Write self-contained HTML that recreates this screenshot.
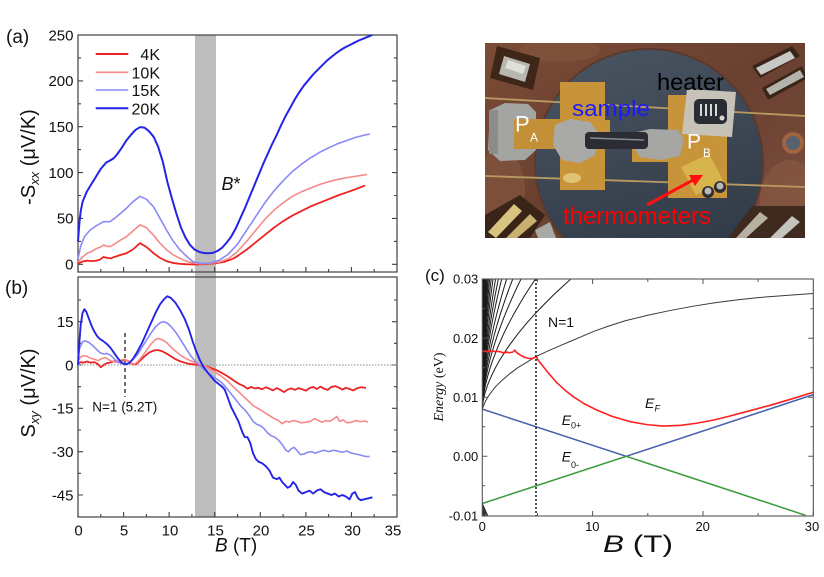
<!DOCTYPE html>
<html><head><meta charset="utf-8"><style>
html,body{margin:0;padding:0;background:#fff;}
svg{display:block;}
text{font-family:"Liberation Sans",sans-serif;}
</style></head><body>
<svg width="824" height="577" viewBox="0 0 824 577" xmlns="http://www.w3.org/2000/svg">
<defs>
<clipPath id="cc"><rect x="482.3" y="279" width="331" height="237"/></clipPath>
<clipPath id="pc"><rect x="485" y="43" width="320" height="195"/></clipPath>
<linearGradient id="slate" x1="0" y1="0" x2="0.3" y2="1"><stop offset="0" stop-color="#4a5563"/><stop offset="1" stop-color="#323b48"/></linearGradient>
<linearGradient id="cop" x1="0" y1="0" x2="1" y2="1"><stop offset="0" stop-color="#7a4c36"/><stop offset="0.5" stop-color="#6a4030"/><stop offset="1" stop-color="#7c5040"/></linearGradient>
<path id="fan" d="M0,0 L0.01,0.063 L0.03,0.122 L0.06,0.185 L0.1,0.251 L0.15,0.32 L0.2,0.381 L0.3,0.486 L0.4,0.577 L0.5,0.66 L0.6,0.736 L0.7,0.807 L0.8,0.875 L0.9,0.939 L1,1 L1.1,1.059 L1.2,1.116" fill="none" stroke="#1a1a1a" stroke-width="1" vector-effect="non-scaling-stroke"/>
</defs>

<rect x="195" y="35" width="21" height="482" fill="#bdbdbd"/>

<!-- Panel (a) -->
<rect x="78" y="35" width="319" height="237" fill="none" stroke="#404040" stroke-width="1.2"/>
<path d="M78,272v-5M123.6,272v-5M169.1,272v-5M214.7,272v-5M260.3,272v-5M305.9,272v-5M351.4,272v-5M100.8,272v-3M146.4,272v-3M191.9,272v-3M237.5,272v-3M283.1,272v-3M328.6,272v-3M374.2,272v-3M78,264.3h5M78,218.4h5M78,172.6h5M78,126.7h5M78,80.9h5M78,241.4h3M78,195.5h3M78,149.6h3M78,103.8h3M78,57.9h3M397,264.3h-5M397,218.4h-5M397,172.6h-5M397,126.7h-5M397,80.9h-5M397,241.4h-3M397,195.5h-3M397,149.6h-3M397,103.8h-3M397,57.9h-3" stroke="#404040" stroke-width="1.1" fill="none"/>
<g font-size="15" text-anchor="end" fill="#111">
<text x="73.5" y="269.6">0</text><text x="73.5" y="223.7">50</text><text x="73.5" y="177.9">100</text><text x="73.5" y="132">150</text><text x="73.5" y="86.2">200</text><text x="73.5" y="40.3">250</text>
</g>
<text x="6" y="43" font-size="19" fill="#111">(a)</text>
<text transform="translate(35,157) rotate(-90)" text-anchor="middle" font-size="20" fill="#111">-S<tspan font-size="13" font-style="italic" dy="4">xx</tspan><tspan dy="-4"> (μV/K)</tspan></text>
<text x="221.5" y="190" font-size="18" fill="#111"><tspan font-style="italic">B</tspan>*</text>
<line x1="95.7" y1="54" x2="128.3" y2="54" stroke="#ee2222" stroke-width="2"/>
<line x1="95.7" y1="72.3" x2="128.3" y2="72.3" stroke="#f58a8a" stroke-width="1.6"/>
<line x1="95.7" y1="90" x2="128.3" y2="90" stroke="#8a8af5" stroke-width="1.6"/>
<line x1="95.7" y1="108.3" x2="128.3" y2="108.3" stroke="#2424e6" stroke-width="2"/>
<g font-size="16" text-anchor="end" fill="#111">
<text x="160" y="60">4K</text><text x="160" y="78.3">10K</text><text x="160" y="96">15K</text><text x="160" y="114.3">20K</text>
</g>
<g transform="translate(78,264.3) scale(9.114,-0.9172)" fill="none" stroke-linejoin="round">
<path vector-effect="non-scaling-stroke" stroke="#ee2222" stroke-width="1.8" d="M0,1 L0.5,3 L1,4 L1.5,3.5 L2,4 L2.4,5 L2.8,8 L3.2,7 L3.6,6.5 L4,8 L4.6,10 L5.3,12 L6,16 L6.8,23 L7.5,19 L8.3,12 L9,7 L9.7,3.5 L10.4,1.5 L11.2,0.5 L12,0 L13,-0.2 L14,0.2 L15,1 L16,2.5 L17,6 L17.5,9 L18.5,16 L19.5,24 L20.5,32 L21.5,40 L22.5,47 L23.5,53 L24.5,58 L25.5,63 L26.5,67 L27.5,71 L28.5,75 L29.5,78.5 L30.5,82 L31.5,86"/>
<path vector-effect="non-scaling-stroke" stroke="#f58a8a" stroke-width="1.6" d="M0,2.5 L0.5,8 L1,12 L1.5,14 L2,17 L2.5,19 L2.8,21 L3.2,19.5 L3.6,19.5 L4,22 L4.6,26 L5.3,30 L6,36 L6.8,43 L7.5,40 L8.3,31.5 L9,23 L9.7,16 L10.4,10.5 L11.2,6.5 L12,3 L12.8,1.2 L13.5,0.5 L14.5,1 L15.5,2.5 L16.5,6 L17.5,14 L18.5,25 L19.5,37 L20.5,49 L21.5,59 L22.5,67 L23.5,74 L24.5,79 L25.5,83 L26.5,87 L27.5,90 L28.5,92.5 L29.5,94.5 L30.5,96 L31.7,98"/>
<path vector-effect="non-scaling-stroke" stroke="#8a8af5" stroke-width="1.6" d="M0,6 L0.3,20 L0.7,30 L1.3,37 L2,42 L2.8,46.5 L3.5,46.5 L4,50 L4.6,55 L5.3,61 L6,68 L6.8,74 L7.5,71 L8.3,62.5 L9,50 L9.7,37.5 L10.4,26 L11.2,15.5 L12,8 L12.6,3 L13.3,1.3 L14,1 L14.5,1.5 L15.5,4.5 L16.5,11 L17.5,22 L18.5,37 L19.5,52 L20.5,67 L21.5,80 L22.5,91 L23.5,101 L24.5,109 L25.5,116 L26.5,122 L27.5,127 L28.5,131.5 L29.5,135 L30.5,138.5 L31.5,141 L32,142"/>
<path vector-effect="non-scaling-stroke" stroke="#2424e6" stroke-width="2" d="M0,25 L0.15,45 L0.3,58 L0.5,68 L0.95,79 L1.5,88 L2,96 L2.5,104 L3.1,111 L3.5,113 L3.9,115.5 L4.3,120 L4.8,127 L5.3,135 L5.8,141 L6.3,146.5 L6.8,149.5 L7.3,149 L7.8,145 L8.3,139 L8.8,128 L9.3,112 L9.8,90 L10.3,72 L10.8,55 L11.3,40 L11.8,29 L12.3,21 L12.8,16 L13.3,13.5 L13.8,12.3 L14.3,12 L14.8,12.5 L15.3,14.5 L15.8,18 L16.3,23.5 L16.8,30 L17.3,39 L17.8,50 L18.3,61 L18.8,73 L19.3,85 L19.8,97 L20.3,109 L20.8,120 L21.3,131 L21.8,141 L22.3,152 L22.8,162 L23.3,171 L23.8,180 L24.3,188 L24.8,195 L25.3,201 L25.8,207 L26.3,212 L26.8,217 L27.3,222 L27.8,226 L28.3,230 L28.8,233.5 L29.3,236.5 L29.8,239 L30.3,241.5 L30.8,244 L31.3,246 L31.8,248 L32.3,250"/>
</g>

<!-- Panel (b) -->
<rect x="78" y="277" width="319" height="240" fill="none" stroke="#404040" stroke-width="1.2"/>
<path d="M78,517v-5M123.6,517v-5M169.1,517v-5M214.7,517v-5M260.3,517v-5M305.9,517v-5M351.4,517v-5M100.8,517v-3M146.4,517v-3M191.9,517v-3M237.5,517v-3M283.1,517v-3M328.6,517v-3M374.2,517v-3M78,321.7h5M78,365h5M78,408.3h5M78,451.7h5M78,495h5M78,300h3M78,343.3h3M78,386.7h3M78,430h3M78,473.3h3M397,321.7h-5M397,365h-5M397,408.3h-5M397,451.7h-5M397,495h-5M397,300h-3M397,343.3h-3M397,386.7h-3M397,430h-3M397,473.3h-3" stroke="#404040" stroke-width="1.1" fill="none"/>
<line x1="78" y1="365" x2="397" y2="365" stroke="#8a8a8a" stroke-width="1" stroke-dasharray="1.5,1.5"/>
<g font-size="15" text-anchor="end" fill="#111">
<text x="73.5" y="327">15</text><text x="73.5" y="370.3">0</text><text x="73.5" y="413.6">-15</text><text x="73.5" y="457">-30</text><text x="73.5" y="500.3">-45</text>
</g>
<g font-size="15" text-anchor="middle" fill="#111">
<text x="78.5" y="535.5">0</text><text x="124" y="535.5">5</text><text x="170" y="535.5">10</text><text x="215.5" y="535.5">15</text><text x="261" y="535.5">20</text><text x="306.5" y="535.5">25</text><text x="352.5" y="535.5">30</text><text x="393" y="535.5">35</text>
</g>
<text x="215" y="551.7" font-size="19" fill="#111"><tspan font-style="italic">B</tspan> (T)</text>
<text x="5" y="294" font-size="19" fill="#111">(b)</text>
<text transform="translate(35,393) rotate(-90)" text-anchor="middle" font-size="20" fill="#111">S<tspan font-size="13" font-style="italic" dy="4">xy</tspan><tspan dy="-4"> (μV/K)</tspan></text>
<line x1="125" y1="333" x2="125" y2="397" stroke="#111" stroke-width="1.2" stroke-dasharray="4,3"/>
<text x="92.3" y="411.7" font-size="13.5" fill="#111">N=1 (5.2T)</text>
<g transform="translate(78,365) scale(9.114,-2.889)" fill="none" stroke-linejoin="round">
<path vector-effect="non-scaling-stroke" stroke="#ee2222" stroke-width="1.8" d="M0,0.5 L0.3,1 L0.6,0.8 L1,1.2 L1.4,0.8 L1.8,1 L2.2,0.3 L2.5,-0.8 L2.8,0 L3.2,0.7 L3.6,0.9 L4,1.3 L4.4,1 L4.8,1.5 L5.2,1.8 L5.6,1.2 L6,0.2 L6.4,0.3 L6.8,1.5 L7.3,3 L7.8,4.3 L8.3,5 L8.7,5.2 L9.2,4.8 L9.7,4 L10.2,3 L10.7,2 L11.2,1.3 L11.7,0.8 L12.2,0.4 L12.7,0.2 L13.2,0 L13.7,-0.2 L14.2,-0.6 L14.7,-1.2 L15.2,-1.8 L15.7,-2.6 L16.2,-3.5 L16.7,-4.5 L17.2,-5.6 L17.7,-6.6 L18.2,-7.3 L18.6,-8.2 L19,-7.6 L19.4,-8.1 L19.8,-7.9 L20.2,-8.4 L20.6,-7.7 L21,-8.2 L21.4,-8.8 L21.8,-8 L22.2,-8.6 L22.6,-9.4 L23,-8.5 L23.4,-8.1 L23.8,-8.6 L24.2,-8 L24.6,-8.4 L25,-8.9 L25.4,-8 L25.8,-7.6 L26.2,-8.3 L26.6,-7.5 L27,-8.2 L27.4,-8.6 L27.8,-7.6 L28.2,-7.3 L28.6,-7.8 L29,-8.5 L29.4,-7.9 L29.8,-8.3 L30.2,-8.8 L30.6,-8.1 L31,-7.7 L31.6,-7.9"/>
<path vector-effect="non-scaling-stroke" stroke="#f58a8a" stroke-width="1.6" d="M0,1.5 L0.3,2.8 L0.6,3.2 L1,3 L1.4,2.3 L1.8,2 L2.2,1.5 L2.6,2.2 L3,2.6 L3.4,1.8 L3.8,1.2 L4.2,1 L4.6,1.5 L5,2 L5.4,1.5 L5.8,0.6 L6.2,0.3 L6.6,1.3 L7,2.8 L7.5,5 L8,7.2 L8.5,8.8 L8.8,9.2 L9.2,8.8 L9.7,7.8 L10.2,6.2 L10.7,4.8 L11.2,3.5 L11.7,2.5 L12.2,1.7 L12.7,1 L13.2,0.4 L13.7,0 L14.2,-0.8 L14.7,-1.8 L15.2,-2.8 L15.7,-3.8 L16.2,-5 L16.7,-6.5 L17.2,-8 L17.7,-9.5 L18.2,-11 L18.7,-12.5 L19.2,-14 L19.6,-14.8 L20,-15.5 L20.5,-16.5 L21,-17.5 L21.5,-18.5 L22,-19.2 L22.4,-20.3 L22.8,-19.5 L23.2,-19.8 L23.6,-19.2 L24,-19.5 L24.5,-20 L25,-19.8 L25.5,-19.5 L26,-18.5 L26.4,-19.3 L26.8,-19.8 L27.2,-19.2 L27.6,-19.5 L28,-18.8 L28.4,-17.8 L28.7,-19.5 L29.1,-19 L29.5,-20 L30,-19.8 L30.5,-19.2 L31,-19.6 L31.5,-19.4 L31.8,-19.8"/>
<path vector-effect="non-scaling-stroke" stroke="#8a8af5" stroke-width="1.6" d="M0,3 L0.2,6 L0.5,8 L0.8,8.4 L1.2,7.8 L1.6,6.8 L2,5.5 L2.4,4.3 L2.8,3.8 L3.2,4 L3.6,3.3 L4,2 L4.5,0.8 L5,0.3 L5.5,0.6 L6,1.8 L6.5,3.5 L7,6 L7.5,8.5 L8,11 L8.5,13.2 L9,14.6 L9.4,15 L9.8,14.5 L10.3,13 L10.8,11 L11.3,8.5 L11.8,6 L12.3,3.5 L12.8,1.5 L13.3,0 L13.8,-1.5 L14.3,-2.8 L14.8,-4 L15.3,-5 L15.8,-6.2 L16.3,-8 L16.8,-10 L17.3,-12 L17.8,-14 L18.3,-15.5 L18.8,-17.5 L19.2,-19.5 L19.6,-20.5 L20,-21 L20.4,-22 L20.8,-23.5 L21.2,-24.5 L21.6,-25 L22,-26 L22.4,-27.5 L22.8,-29.5 L23.1,-30 L23.4,-29 L23.7,-28.5 L24,-29.5 L24.4,-31 L24.8,-30.8 L25.2,-30.2 L25.6,-30 L26,-30.5 L26.5,-30 L27,-29.5 L27.5,-30 L28,-29.5 L28.5,-29.8 L29,-30.2 L29.5,-29.8 L30,-30.5 L30.5,-30.8 L31,-31.2 L31.5,-31.6 L32,-31.7"/>
<path vector-effect="non-scaling-stroke" stroke="#2424e6" stroke-width="1.9" d="M0,0 L0.15,8 L0.3,14 L0.5,18 L0.7,19.3 L0.9,18.5 L1.2,16 L1.5,13.5 L1.8,11.5 L2.1,10 L2.4,9 L2.8,8.2 L3.2,7.2 L3.6,5.8 L4,4 L4.4,2.2 L4.8,0.8 L5.2,0.2 L5.6,0.6 L6,2 L6.5,4.5 L7,7.5 L7.5,11 L8,14.5 L8.5,18 L9,21 L9.5,23 L9.8,23.8 L10.2,23.2 L10.7,21.5 L11.2,19 L11.7,16 L12.2,12 L12.6,8 L13,4.5 L13.4,1.5 L13.8,-0.8 L14.2,-2.5 L14.6,-4 L15,-5.5 L15.4,-6.5 L15.8,-7.5 L16.1,-8.5 L16.4,-11 L16.8,-14.5 L17.2,-17 L17.6,-19.5 L18,-23 L18.3,-25 L18.6,-25 L18.9,-27 L19.2,-30.5 L19.5,-32.5 L19.8,-33.5 L20.2,-34 L20.6,-35 L21,-36.5 L21.4,-39 L21.8,-39.5 L22.1,-39 L22.4,-40.5 L22.7,-41.5 L23,-42.5 L23.3,-42 L23.6,-40.5 L23.9,-41.5 L24.2,-43.5 L24.6,-44.5 L25,-44 L25.4,-43.5 L25.8,-44.5 L26.2,-43.5 L26.6,-43 L27,-44 L27.4,-44.5 L27.8,-45 L28.2,-44.5 L28.6,-45.5 L29,-45 L29.4,-45.5 L29.8,-46.5 L30.1,-44.5 L30.4,-44 L30.7,-46 L31,-46.8 L31.4,-46.5 L31.8,-46.2 L32.3,-45.8"/>
</g>

<!-- Photo -->
<g clip-path="url(#pc)">
<rect x="485" y="43" width="320" height="195" fill="url(#cop)"/>
<ellipse cx="500" cy="190" rx="25" ry="40" fill="#86583f" opacity="0.6"/>
<ellipse cx="790" cy="200" rx="30" ry="40" fill="#8a5c44" opacity="0.6"/>
<ellipse cx="560" cy="50" rx="40" ry="12" fill="#84563e" opacity="0.6"/>
<circle cx="649" cy="163" r="114" fill="url(#slate)" stroke="#5a3a2c" stroke-width="2"/>
<line x1="485" y1="98" x2="805" y2="116" stroke="#b89a62" stroke-width="1.8"/>
<line x1="485" y1="176" x2="805" y2="187" stroke="#b89a62" stroke-width="1.8"/>
<polygon points="497,46 540,58 533,90 490,78" fill="#3e2618"/>
<polygon points="504,56 530,64 525,82 499,74" fill="#b9b8b0"/>
<polygon points="508,60 526,66 523,74 505,68" fill="#e0e0da"/>
<polygon points="752,66 792,46 800,56 760,78" fill="#3a2618"/>
<polygon points="756,68 790,51 795,58 761,75" fill="#c8c8c4"/>
<polygon points="762,88 802,66 808,78 768,100" fill="#3a2618"/>
<polygon points="766,89 800,70 804,77 770,95" fill="#b4b4ae"/>
<polygon points="485,215 520,195 545,215 530,238 485,238" fill="#3a2418"/>
<polygon points="488,232 514,204 522,211 496,238" fill="#d8c480"/>
<polygon points="506,238 530,214 537,221 517,238" fill="#c8b070"/>
<polygon points="535,230 550,222 556,238 538,238" fill="#a8a8a4"/>
<polygon points="728,238 752,206 805,206 805,238" fill="#3e2a1e"/>
<polygon points="736,238 760,212 768,218 746,238" fill="#b8b0a0"/>
<polygon points="770,238 792,216 800,222 782,238" fill="#c4c4bc"/>
<circle cx="793" cy="143" r="11" fill="#a0643e"/>
<circle cx="793" cy="143" r="7" fill="#58626e"/>
<polygon points="490,110 505,103 528,104 536,112 536,150 525,160 500,161 488,150" fill="#a4a4a2"/>
<rect x="489" y="110" width="9" height="44" fill="#8c8c8a"/>
<rect x="514" y="119" width="57" height="30" fill="#c39037"/>
<rect x="560" y="82" width="45" height="108" fill="#c8943a"/>
<rect x="600" y="120" width="10" height="28" fill="#c8943a"/>
<ellipse cx="572" cy="178" rx="9" ry="5" fill="#e2c274"/>
<polygon points="555,125 570,119 590,122 599,134 595,155 580,163 562,160 553,145" fill="#a9a9a7"/>
<rect x="632" y="140" width="40" height="22" fill="#c8943a"/>
<rect x="668" y="95" width="59" height="103" fill="#c8943a"/>
<polygon points="633,133 650,129 678,130 684,140 680,156 660,160 640,157 632,146" fill="#a6a6a4"/>
<rect x="585" y="132" width="63" height="17" rx="4" fill="#2c2c34"/>
<line x1="590" y1="138" x2="644" y2="140" stroke="#8a8a94" stroke-width="1.5"/>
<polygon points="687,89 736,92 732,137 682,134" fill="#c6c2b8"/>
<rect x="694" y="99" width="33" height="25" rx="5" fill="#2a2c34"/>
<path d="M701,104v12M706,104v12M711,104v12M716,104v12" stroke="#d8d8d8" stroke-width="2"/>
<circle cx="722" cy="118" r="2.5" fill="#d8d8d8"/>
<polygon points="681,167 709,154 724,182 696,195" fill="#d8b44c"/>
<circle cx="708" cy="192" r="6" fill="#2e2e30"/>
<circle cx="720" cy="187" r="6" fill="#2e2e30"/>
<circle cx="708" cy="191" r="3.5" fill="#b8b8b8"/>
<circle cx="720" cy="186" r="3.5" fill="#b8b8b8"/>
<text x="657" y="90" font-size="23" fill="#000" textLength="67" lengthAdjust="spacingAndGlyphs">heater</text>
<text x="572" y="116" font-size="22" fill="#1a1aff" textLength="78" lengthAdjust="spacingAndGlyphs">sample</text>
<text x="515" y="131.7" font-size="22" fill="#fff">P</text>
<text x="530" y="141.7" font-size="12" fill="#fff">A</text>
<text x="687" y="148.5" font-size="21" fill="#fff">P</text>
<text x="703" y="157" font-size="11.5" fill="#fff">B</text>
<line x1="647" y1="205" x2="693" y2="180" stroke="#ff1010" stroke-width="3"/>
<polygon points="703,175 689,175 695,186" fill="#ff1010"/>
<text x="563" y="224" font-size="24" fill="#ff0000" textLength="148" lengthAdjust="spacingAndGlyphs">thermometers</text>
</g>

<!-- Panel (c) -->
<g clip-path="url(#cc)">
<g transform="translate(482.3,456.3) scale(11.033,-5.9)">
<use href="#fan" transform="translate(0,8) scale(0.07,22)"/>
<use href="#fan" transform="translate(0,8) scale(0.11,22)"/>
<use href="#fan" transform="translate(0,8) scale(0.15,22)"/>
<use href="#fan" transform="translate(0,8) scale(0.2,22)"/>
<use href="#fan" transform="translate(0,8) scale(0.25,22)"/>
<use href="#fan" transform="translate(0,8) scale(0.31,22)"/>
<use href="#fan" transform="translate(0,8) scale(0.38,22)"/>
<use href="#fan" transform="translate(0,8) scale(0.46,22)"/>
<use href="#fan" transform="translate(0,8) scale(0.55,22)"/>
<use href="#fan" transform="translate(0,8) scale(0.66,22)"/>
<use href="#fan" transform="translate(0,8) scale(0.8,22)"/>
<use href="#fan" transform="translate(0,8) scale(0.97,22)"/>
<use href="#fan" transform="translate(0,8) scale(1.2,22)"/>
<use href="#fan" transform="translate(0,8) scale(1.45,22)"/>
<use href="#fan" transform="translate(0,8) scale(1.75,22)"/>
<use href="#fan" transform="translate(0,8) scale(2.2,22)"/>
<use href="#fan" transform="translate(0,8) scale(2.75,22)"/>
<use href="#fan" transform="translate(0,8) scale(3.5,22)"/>
<use href="#fan" transform="translate(0,8) scale(4.8,22)"/>
<use href="#fan" transform="translate(0,8) scale(8,22)"/>
<path vector-effect="non-scaling-stroke" fill="none" stroke="#333" stroke-width="1" d="M0,-8 L0.05,-10.5 M0,-8 L0.12,-10.5 M0,-8 L0.2,-10.5 M0,-8 L0.3,-10.5 M0,-8 L0.45,-10.5 M0,-8 L0.6,-10.5"/>
<path vector-effect="non-scaling-stroke" fill="none" stroke="#3a3a3a" stroke-width="1" d="M0,8 L0.3,9.4 L0.7,10.6 L1.2,11.8 L1.8,12.9 L2.5,14 L3.2,15 L4,15.9 L4.87,16.9 L6,17.9 L7,18.7 L8,19.5 L9,20.3 L10,21.1 L11.5,22.1 L13,23 L15,23.9 L17,24.7 L19,25.4 L21,26 L23,26.5 L25,26.9 L27,27.2 L30,27.6"/>
<path vector-effect="non-scaling-stroke" fill="none" stroke="#4a5fae" stroke-width="1.5" d="M0,8 L13.05,0 L30,10.45"/>
<path vector-effect="non-scaling-stroke" fill="none" stroke="#3a9a3a" stroke-width="1.5" d="M0,-8 L13.05,0 L29.3,-10"/>
<path vector-effect="non-scaling-stroke" fill="none" stroke="#ff2020" stroke-width="1.6" stroke-linejoin="round" d="M0,17.8 L1,17.8 L1.6,17.75 L1.8,17.6 L2,17.5 L2.2,17.65 L2.5,17.55 L2.8,17.7 L2.95,18 L3.1,17.6 L3.4,17.2 L3.8,16.8 L4.2,16.6 L4.5,16.55 L4.7,16.7 L4.87,16.95 L5.1,16.2 L5.53,15.2 L6,14.1 L6.74,12.5 L7.5,11.2 L8.25,10.1 L9.2,8.95 L10.37,7.85 L11.8,6.75 L13.4,5.87 L15,5.35 L16.4,5.13 L18,5.25 L19.4,5.6 L21,6.15 L22.45,6.83 L24,7.6 L26,8.6 L28,9.7 L30,10.85"/>
</g>
</g>
<line x1="536" y1="279" x2="536" y2="516" stroke="#222" stroke-width="1.6" stroke-dasharray="2,2"/>
<rect x="482.3" y="279" width="331" height="237" fill="none" stroke="#555" stroke-width="1.1"/>
<path d="M482.3,516v-5M592.6,516v-5M703,516v-5M813.3,516v-5M537.5,516v-3M647.8,516v-3M758.1,516v-3M592.6,279v5M703,279v5M537.5,279v3M647.8,279v3M758.1,279v3M482.3,456.3h5M482.3,397.3h5M482.3,338.3h5M482.3,485.8h3M482.3,426.8h3M482.3,367.8h3M482.3,308.8h3M813.3,456.3h-5M813.3,397.3h-5M813.3,338.3h-5M813.3,485.8h-3M813.3,426.8h-3M813.3,367.8h-3M813.3,308.8h-3" stroke="#555" stroke-width="1" fill="none"/>
<g font-size="13" text-anchor="end" fill="#111">
<text x="478.3" y="283.6">0.03</text><text x="478.3" y="342.9">0.02</text><text x="478.3" y="401.9">0.01</text><text x="478.3" y="460.9">0.00</text><text x="478.3" y="520.6">-0.01</text>
</g>
<g font-size="13" text-anchor="middle" fill="#111">
<text x="482.3" y="531">0</text><text x="592.3" y="531">10</text><text x="702.7" y="531">20</text><text x="812" y="531">30</text>
</g>
<text x="603" y="552" font-size="24" fill="#111" textLength="70" lengthAdjust="spacingAndGlyphs"><tspan font-style="italic">B</tspan> (T)</text>
<text x="425" y="281" font-size="17" fill="#111">(c)</text>
<text transform="translate(443,387) rotate(-90)" text-anchor="middle" font-size="14" fill="#111" style="font-family:'Liberation Serif',serif"><tspan font-style="italic">Energy</tspan> (eV)</text>
<text x="548" y="327" font-size="14" fill="#111">N=1</text>
<text x="645" y="408" font-size="14" font-style="italic" fill="#111">E</text>
<text x="654.5" y="411.7" font-size="9" font-style="italic" fill="#111">F</text>
<text x="561.7" y="425" font-size="14" font-style="italic" fill="#111">E</text>
<text x="571" y="428.5" font-size="9" fill="#111">0+</text>
<text x="561.7" y="461.7" font-size="14" font-style="italic" fill="#111">E</text>
<text x="571" y="468" font-size="9" fill="#111">0-</text>
</svg>
</body></html>
